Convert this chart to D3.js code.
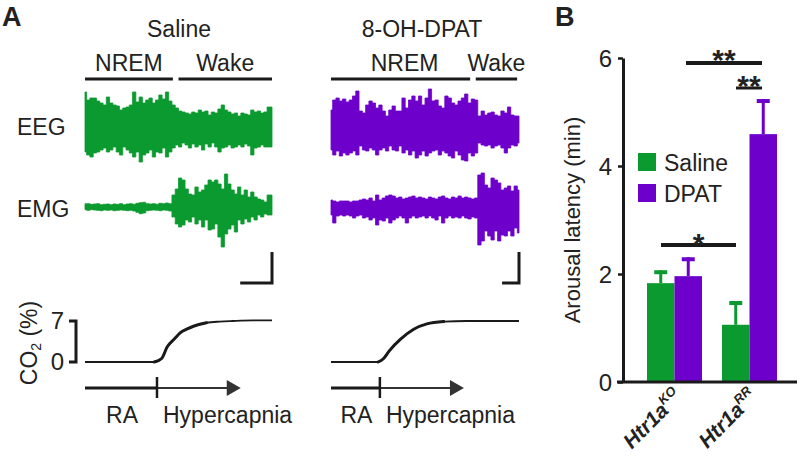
<!DOCTYPE html>
<html><head><meta charset="utf-8">
<script src="https://cdn.jsdelivr.net/npm/d3@7"></script>
<style>
body{margin:0;background:#fff}
svg{display:block}
text{font-family:"Liberation Sans",Arial,Helvetica,sans-serif;fill:#222}
</style>
</head><body>
<svg id="c" width="800" height="460"></svg>
<script>
const GREEN = "#0b9a2f", PURPLE = "#6e00cc", INK = "#1a1a1a";

// ---------- Panel A data ----------
// trace envelopes (amplitude above / below baseline, arbitrary units)
const eegSalineTop = [35,27,29,29,26,24,22,30,24,22,21,17,19,20,22,35,25,30,24,27,29,24,27,32,28,35,26,22,19,16,15,14,13,15,14,17,15,16,12,15,14,18,22,17,15,13,14,11,14,13,12,17,15,16,14,15,20,20];
const eegSalineBot = [25,28,30,26,25,23,21,25,23,20,25,28,20,23,26,30,25,35,28,26,23,30,25,26,21,30,25,21,18,20,16,18,21,17,20,18,23,17,20,16,20,25,21,20,18,21,20,18,20,17,19,28,21,20,18,20,20,20];
const emgSalineTop = [3.3,3.3,2.7,3,3.3,2.3,2.7,3,2.3,3,2.7,3.3,2.3,3,3.3,2.7,3.7,4.3,4.7,3.3,3,3.3,2.7,3.7,3.3,4,3.3,12,18,29,27,18,13,12,20,15,17,22,27,25,27,23,18,33,23,17,13,20,12,17,10,15,10,8,7,5,12,12];
const emgSalineBot = [2.7,3.3,2.7,3,3.3,3.7,3,3.3,3,3.7,3.3,3,3.3,3.7,3.3,4,5.3,6.7,6,3.7,3.3,3,3.3,3.7,3,3.3,4,10,17,20,18,13,15,10,17,13,20,13,23,22,17,30,40,27,22,18,25,13,17,12,15,10,13,8,10,7,8,8];
const eegDpatTop = [18,28,30,27,29,26,28,32,37,17,15,23,27,25,20,23,17,12,18,22,17,17,30,20,28,32,27,32,23,30,39,27,28,22,20,32,30,25,23,27,30,34,25,29,28,12,17,13,15,16,13,12,17,15,21,13,12,12];
const eegDpatBot = [22,27,23,28,25,27,25,23,27,18,22,23,20,22,27,22,20,23,18,22,23,18,25,22,27,23,30,27,23,28,25,23,22,27,23,25,28,30,23,27,32,33,25,28,25,15,17,18,17,20,18,17,20,25,20,17,18,15];
const emgDpatTop = [8,7,6,7,7,7,6,7,7,8,9,8,10,7,13,8,10,12,13,12,10,11,9,10,11,12,10,11,10,9,11,10,9,11,12,10,9,11,10,12,10,11,10,9,10,33,35,23,20,30,28,25,18,20,22,17,22,18];
const emgDpatBot = [7,15,8,7,8,7,8,10,8,7,10,9,12,10,17,12,13,10,15,12,10,8,10,15,10,8,10,9,8,10,8,10,12,8,15,10,8,10,9,10,8,10,11,9,10,37,33,23,28,32,23,33,27,28,23,28,20,25];

// epochs (time, % of sweep)
const salineEpochs = [["NREM",0,47],["Wake",50,100]];
const dpatEpochs = [["NREM",0,74],["Wake",77,99]];

// CO2 (%) over time
const co2SalineT = [0,37,41,44,48,51,55,58,62,65,72,79,90,100];
const co2SalineV = [0,0,0.6,2.6,4.0,5.0,5.7,6.1,6.5,6.7,6.9,7.0,7.1,7.1];
const co2DpatT = [0,25,28,31,37,44,51,60,72,100];
const co2DpatV = [0,0,0.6,1.9,3.9,5.6,6.5,6.9,7.0,7.0];
const co2Ticks = [0,7];

// hypercapnia onset and arrow end (time)
const salineOnset = 38.5, salineArrowEnd = 83.3;
const dpatOnset = 26, dpatArrowEnd = 70.7;
// scale bars: [time length, amplitude]
const salineScaleBar = [17, 31];
const dpatScaleBar = [9, 31];

// ---------- Panel B data ----------
const genotypes = ["KO","RR"];
const treatments = ["Saline","DPAT"];
const salineMean = [1.83,1.06], salineSEM = [0.24,0.44];
const dpatMean = [1.96,4.59], dpatSEM = [0.35,0.65];
const yTicks = [0,2,4,6];

const svg = d3.select("#c");

// ---------- Panel A drawing ----------
svg.append("text").attr("x",2).attr("y",26).attr("font-size",27).attr("font-weight","bold").text("A");
svg.append("text").attr("x",17).attr("y",135).attr("font-size",23).text("EEG");
svg.append("text").attr("x",17).attr("y",217).attr("font-size",23).text("EMG");

function drawPanel(cfg){
  const g = svg.append("g");
  const t = d3.scaleLinear().domain([0,100]).range(cfg.xr);
  const amp = d3.scaleLinear().domain([0,10]).range([0,10]);
  g.append("text").attr("x",cfg.titleX).attr("y",37).attr("font-size",23).attr("text-anchor","middle").text(cfg.title);
  cfg.epochs.forEach(([lab,a,b])=>{
    g.append("line").attr("x1",t(a)).attr("x2",t(b)).attr("y1",79).attr("y2",79).attr("stroke",INK).attr("stroke-width",3);
    g.append("text").attr("x",(t(a)+t(b))/2 + (cfg.labDx||0)*(lab==="NREM"?1:0)).attr("y",71).attr("font-size",23).attr("text-anchor","middle").text(lab);
  });
  function trace(top, bot, cy){
    const n = top.length;
    const ti = d3.scaleLinear().domain([0,n-1]).range([t(0),t(100)]);
    const area = d3.area().x((d,i)=>ti(i)).y1((d,i)=>cy-amp(top[i])).y0((d,i)=>cy+amp(bot[i])).curve(d3.curveStep);
    g.append("path").datum(top).attr("d",area).attr("fill",cfg.color).attr("stroke",cfg.color).attr("stroke-width",0.8);
  }
  trace(cfg.eegTop,cfg.eegBot,cfg.eegY);
  trace(cfg.emgTop,cfg.emgBot,cfg.emgY);
  const sb = cfg.scaleBar;
  g.append("path").attr("d",`M${t(100-sb[0])},283 H${t(100)} V${283-amp(sb[1])}`).attr("fill","none").attr("stroke",INK).attr("stroke-width",3);
  // CO2
  const cy = d3.scaleLinear().domain([0,7]).range([362,321]);
  const line = d3.line().x(d=>t(d[0])).y(d=>cy(d[1])).curve(d3.curveMonotoneX);
  const pts = d3.zip(cfg.co2T,cfg.co2V);
  g.append("path").datum(pts).attr("d",line).attr("fill","none").attr("stroke",INK).attr("stroke-width",1.8);
  const rising = pts.filter((d,i)=> i>0 && pts[i-1][1] < 6.6 && d[1] > 0 || (i<pts.length-1 && pts[i+1][1]>0 && d[1]===0 && pts[i+1][1]<1));
  g.append("path").datum(rising).attr("d",line).attr("fill","none").attr("stroke",INK).attr("stroke-width",3).attr("stroke-linecap","round");
  if(cfg.showCo2Axis){
    g.append("path").attr("d",`M69,${cy(7)} H76 V${cy(0)} H69`).attr("fill","none").attr("stroke",INK).attr("stroke-width",3);
    co2Ticks.forEach(v=>{
      g.append("text").attr("x",64).attr("y",cy(v)+8).attr("font-size",24).attr("text-anchor","end").text(v);
    });
    const lab = g.append("text").attr("transform","translate(37,343) rotate(-90)").attr("font-size",23).attr("text-anchor","middle");
    lab.append("tspan").text("CO");
    lab.append("tspan").attr("font-size",14).attr("dy",4).text("2");
    lab.append("tspan").attr("dy",-4).text(" (%)");
  }
  const ay = 388;
  g.append("line").attr("x1",t(0)).attr("x2",t(cfg.onset)).attr("y1",ay).attr("y2",ay).attr("stroke",INK).attr("stroke-width",3);
  const tip = t(cfg.arrowEnd);
  g.append("line").attr("x1",t(cfg.onset)).attr("x2",tip-12).attr("y1",ay).attr("y2",ay).attr("stroke","#333").attr("stroke-width",2.2);
  g.append("path").attr("d",`M${tip},${ay} L${tip-14},${ay-8} L${tip-14},${ay+8} Z`).attr("fill","#333");
  g.append("line").attr("x1",t(cfg.onset)).attr("x2",t(cfg.onset)).attr("y1",377).attr("y2",398).attr("stroke",INK).attr("stroke-width",2.5);
  g.append("text").attr("x",(t(0)+t(cfg.onset))/2+1).attr("y",423).attr("font-size",23).attr("text-anchor","middle").text("RA");
  g.append("text").attr("x",t(cfg.onset)+6).attr("y",423).attr("font-size",23).text("Hypercapnia");
}

drawPanel({title:"Saline",titleX:179,xr:[85,272],color:GREEN,epochs:salineEpochs,
  eegTop:eegSalineTop,eegBot:eegSalineBot,emgTop:emgSalineTop,emgBot:emgSalineBot,eegY:127,emgY:207,
  scaleBar:salineScaleBar,co2T:co2SalineT,co2V:co2SalineV,showCo2Axis:true,onset:salineOnset,arrowEnd:salineArrowEnd});
drawPanel({title:"8-OH-DPAT",titleX:422,xr:[331,519],color:PURPLE,epochs:dpatEpochs,labDx:4,
  eegTop:eegDpatTop,eegBot:eegDpatBot,emgTop:emgDpatTop,emgBot:emgDpatBot,eegY:128,emgY:208,
  scaleBar:dpatScaleBar,co2T:co2DpatT,co2V:co2DpatV,showCo2Axis:false,onset:dpatOnset,arrowEnd:dpatArrowEnd});

// ---------- Panel B drawing ----------
const gb = svg.append("g");
gb.append("text").attr("x",555).attr("y",26).attr("font-size",27).attr("font-weight","bold").text("B");
const y = d3.scaleLinear().domain([0,6]).range([382,58]);
const x0 = d3.scaleBand().domain(genotypes).range([647,777]).paddingInner(20/75).paddingOuter(0);
const x1 = d3.scaleBand().domain(treatments).range([0,x0.bandwidth()]);
const colors = {Saline:GREEN, DPAT:PURPLE};
const rows = [];
genotypes.forEach((gname,i)=>{
  rows.push({g:gname,t:"Saline",m:salineMean[i],e:salineSEM[i]});
  rows.push({g:gname,t:"DPAT",m:dpatMean[i],e:dpatSEM[i]});
});
rows.forEach(r=>{
  const cx = x0(r.g)+x1(r.t)+x1.bandwidth()/2;
  gb.append("line").attr("x1",cx).attr("x2",cx).attr("y1",y(r.m)).attr("y2",y(r.m+r.e)).attr("stroke",colors[r.t]).attr("stroke-width",3);
  gb.append("line").attr("x1",cx-6.5).attr("x2",cx+6.5).attr("y1",y(r.m+r.e)+2).attr("y2",y(r.m+r.e)+2).attr("stroke",colors[r.t]).attr("stroke-width",4);
});
gb.selectAll("rect.bar").data(rows).join("rect").attr("class","bar")
  .attr("x",d=>x0(d.g)+x1(d.t)).attr("width",x1.bandwidth())
  .attr("y",d=>y(d.m)).attr("height",d=>y(0)-y(d.m)).attr("fill",d=>colors[d.t]);

const ya = gb.append("g").attr("transform","translate(623,0)")
  .call(d3.axisLeft(y).tickValues(yTicks).tickFormat(d3.format("d")).tickSize(5).tickSizeOuter(0).tickPadding(6));
ya.select(".domain").attr("stroke",INK).attr("stroke-width",3);
ya.selectAll(".tick line").attr("stroke",INK).attr("stroke-width",2.5);
ya.selectAll(".tick text").attr("font-size",24).attr("font-family","Liberation Sans, Arial, sans-serif").attr("fill","#222").attr("dy","0.36em");
gb.append("line").attr("x1",617).attr("x2",797).attr("y1",y(0)).attr("y2",y(0)).attr("stroke",INK).attr("stroke-width",3);
gb.append("text").attr("transform","translate(580,220) rotate(-90)").attr("font-size",22).attr("text-anchor","middle").text("Arousal latency (min)");
genotypes.forEach(gname=>{
  const cx = x0(gname)+x0.bandwidth()/2;
  const tx = gb.append("text").attr("transform",`translate(${cx+9},398) rotate(-45)`).attr("text-anchor","end")
    .attr("font-size",21).attr("font-weight","bold").attr("font-style","italic");
  tx.append("tspan").text("Htr1a");
  tx.append("tspan").attr("font-size",13).attr("dy",-9).text(gname);
});
treatments.forEach((tn,i)=>{
  gb.append("rect").attr("x",638).attr("y",153+i*31).attr("width",18).attr("height",18).attr("fill",colors[tn]);
  gb.append("text").attr("x",664).attr("y",171+i*31).attr("font-size",23).text(tn);
});
function sig(xa,xb,yy,w,stars,sy){
  gb.append("line").attr("x1",xa).attr("x2",xb).attr("y1",yy).attr("y2",yy).attr("stroke",INK).attr("stroke-width",w);
  gb.append("text").attr("x",(xa+xb)/2).attr("y",sy).attr("font-size",30).attr("font-weight","bold").attr("text-anchor","middle").text(stars);
}
sig(686, 762, 63, 4, "**", 70);
sig(736, 762, 88, 3, "**", 96);
sig(661, 736, 245, 4, "*", 254);
</script>
</body></html>
